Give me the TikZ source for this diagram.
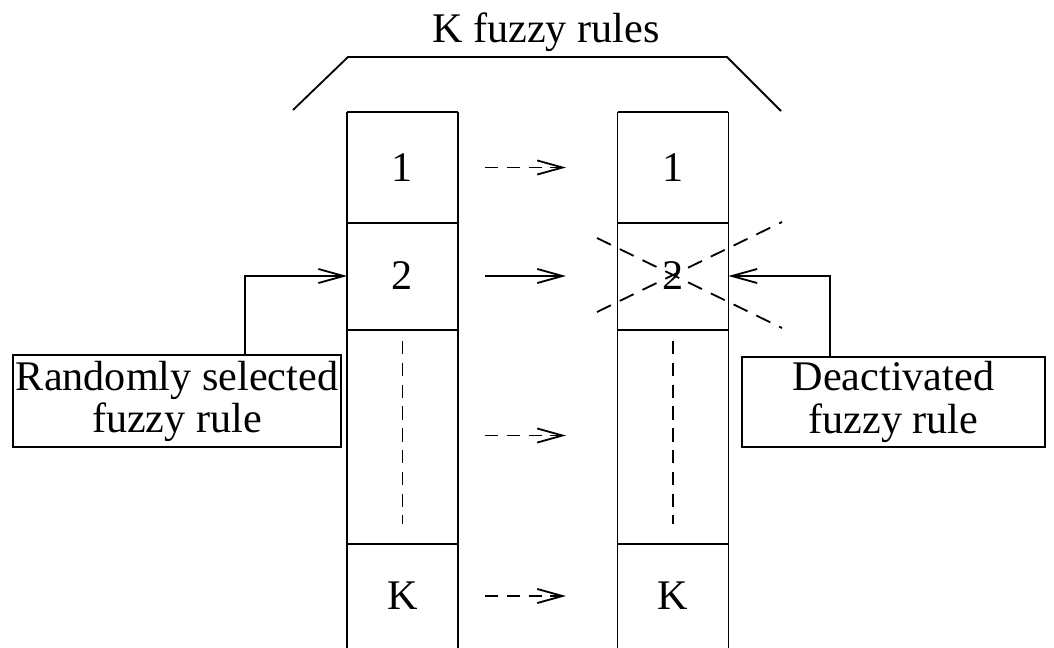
\documentclass[tikz,border=0pt]{standalone}
\usepackage{fontspec}
\setmainfont{Liberation Serif}
\usetikzlibrary{arrows.meta}
\begin{document}
\begin{tikzpicture}[x=0.025cm, y=-0.025cm, line width=1.3pt,
  txt/.style={font=\fontsize{30}{30}\selectfont},
  cell/.style={txt, inner sep=0pt, minimum width=2.725cm},
  labelbox/.style={txt, draw, align=center, inner sep=0pt},
  barb/.style={-{Straight Barb[length=18pt, width=10pt, line width=1.3pt]}},
  dashpat/.style={dash pattern=on 9.5pt off 6pt},
  flow/.style={barb, shorten <=0.675cm, shorten >=1.29cm},
  crossdash/.style={dash pattern=on 11pt off 7pt}]
\useasboundingbox (0,0) rectangle (1054,647);

% title and bracket over both rule lists
\node[txt, anchor=base] (title) at (546,42) {K fuzzy rules};
\draw (293,110) -- (348,57) -- (727,57) -- (781,111);

% the two columns of rules
\foreach \s/\x in {L/402.5, R/673} {
  \node[cell, minimum height=2.725cm] (c1\s) at (\x,167.5) {1};
  \node[cell, minimum height=2.65cm]  (c2\s) at (\x,276)   {2};
  \node[cell, minimum height=5.375cm] (cm\s) at (\x,435.5) {};
  \node[cell, minimum height=2.6cm]   (cK\s) at (\x,596)   {K};
  \draw (c1\s.north west) -- (cK\s.south west)
        (c1\s.north east) -- (cK\s.south east)
        (c1\s.north west) -- (c1\s.north east)
        (c1\s.south west) -- (c1\s.south east)
        (c2\s.south west) -- (c2\s.south east)
        (cm\s.south west) -- (cm\s.south east);
  \draw[dashpat, shorten <=0.35cm, shorten >=0.5cm] (cm\s.north) -- (cm\s.south);
}

% mapping from the old to the new rule base
\draw[flow, dashpat] (c1L) -- (c1R);
\draw[flow] (c2L) -- (c2R);
\draw[flow, dashpat] (cmL) -- (cmR);
\draw[flow, dashpat] (cKL) -- (cKR);

% the deactivated rule is crossed out
\draw[crossdash] ([shift={(-76,-38)}]c2R.center) -- ([shift={(109,52)}]c2R.center);
\draw[crossdash] ([shift={(-76,36)}]c2R.center) -- ([shift={(109,-54)}]c2R.center);

% labels
\node[labelbox, minimum width=8.2cm, minimum height=2.3cm] (sel) at (177,401)
  {Randomly selected\\fuzzy rule};
\node[labelbox, minimum width=7.575cm, minimum height=2.25cm] (dea) at (893.5,402)
  {Deactivated\\fuzzy rule};
\draw[barb] ([xshift=1.7cm]sel.north) |- (c2L.west);
\draw[barb] ([xshift=-1.5875cm]dea.north) |- (c2R.east);
\end{tikzpicture}
\end{document}
